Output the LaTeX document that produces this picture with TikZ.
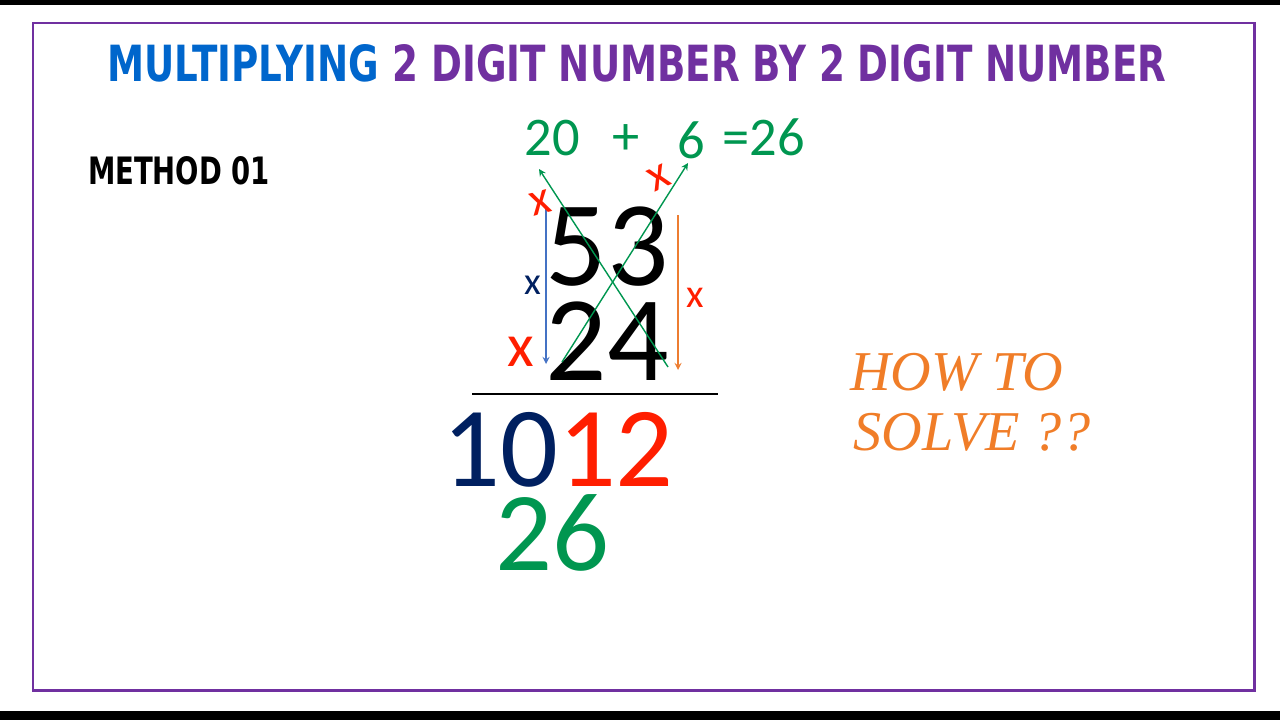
\documentclass[tikz,border=0pt]{standalone}
\usepackage{fontspec}
\usepackage{graphicx}
\setmainfont{Carlito}
\newfontfamily\heavyfont{DejaVu Sans}
\newfontfamily\slantfont{Liberation Serif}
\usetikzlibrary{arrows}

\definecolor{frameviolet}{RGB}{112,48,160}
\definecolor{titleblue}{RGB}{0,102,204}
\definecolor{sumgreen}{RGB}{0,150,80}
\definecolor{crossred}{RGB}{255,30,0}
\definecolor{tensnavy}{RGB}{0,32,96}
\definecolor{lineblue}{RGB}{68,114,196}
\definecolor{lineorange}{RGB}{237,125,49}
\definecolor{howorange}{RGB}{240,125,40}

\begin{document}
\begin{tikzpicture}[x=0.02cm, y=-0.02cm, >=stealth,
    txt/.style={inner sep=0pt, anchor=base},
    bigdigit/.style={txt, font=\fontsize{69}{69}\selectfont},
    topdigit/.style={txt, sumgreen, font=\fontsize{31}{31}\selectfont}]
        \useasboundingbox (0,0) rectangle (1280,720);

        % black bars and frame
        \fill[black] (0,0) rectangle (1280,5);
        \fill[black] (0,711) rectangle (1280,720);
        \draw[frameviolet, line width=1.7pt] (33,23) rectangle (1254,690);

        % title
        \node[inner sep=0pt] (title) at (637,63) {\resizebox{21.18cm}{0.74cm}{\heavyfont\bfseries
            \color{titleblue}MULTIPLYING \color{frameviolet}2 DIGIT NUMBER BY 2 DIGIT NUMBER}};
        \node[inner sep=0pt] (method) at (179,171) {\resizebox{3.64cm}{0.56cm}{\heavyfont\bfseries METHOD 01}};

        % sum of the cross products
        \node[topdigit] (top20) at (552,155) {20};
        \node[topdigit, anchor=center] (topplus) at (626,140) {+};
        \node[topdigit] (top6) at (691,158) {6};
        \node[topdigit] (topsum) at (764,155) {=26};

        % the two numbers
        \node[bigdigit] (num53) at (607,285) {53};
        \node[bigdigit] (num24) at (607,380) {24};

        % cross arrows
        \coordinate (crossAs) at (668,367);
        \coordinate (crossAe) at (539,169);
        \coordinate (crossBs) at (562,362);
        \coordinate (crossBe) at (688,163);
        \draw[->, sumgreen, line width=0.8pt] (crossAs) -- (crossAe);
        \draw[->, sumgreen, line width=0.8pt] (crossBs) -- (crossBe);

        % down arrows
        \coordinate (tensTop) at (546,207);
        \coordinate (tensBot) at (546,364);
        \coordinate (onesTop) at (678,215);
        \coordinate (onesBot) at (678,370);
        \draw[->, lineblue, line width=0.8pt] (tensTop) -- (tensBot);
        \draw[->, lineorange, line width=0.8pt] (onesTop) -- (onesBot);

        % times signs
        \node[inner sep=0pt, crossred, rotate=15, font=\fontsize{27}{27}\selectfont] (xa) at (540,203) {x};
        \node[inner sep=0pt, crossred, rotate=25, font=\fontsize{27}{27}\selectfont] (xb) at (659,178) {x};
        \node[inner sep=0pt, crossred, font=\fontsize{35}{35}\selectfont] (xbig) at (521,352) {x};
        \node[inner sep=0pt, tensnavy, font=\fontsize{22}{22}\selectfont] (xnavy) at (533,285) {x};
        \node[inner sep=0pt, crossred, font=\fontsize{23}{23}\selectfont] (xright) at (695,298) {x};

        % result line
        \coordinate (ruleL) at (472,394);
        \coordinate (ruleR) at (718,394);
        \draw[line width=0.8pt] (ruleL) -- (ruleR);

        % result
        \node[bigdigit, font=\fontsize{65}{65}\selectfont] (res1012) at (558,486)
            {\textcolor{tensnavy}{10}\textcolor{crossred}{12}};
        \node[bigdigit, sumgreen, font=\fontsize{64}{64}\selectfont] (res26) at (552,570) {26};

        % question
        \node[txt, anchor=base west, howorange, font=\slantfont\itshape\fontsize{32}{32}\selectfont] (how) at (850,390) {HOW TO};
        \node[txt, anchor=base west, howorange, font=\slantfont\itshape\fontsize{32}{32}\selectfont] (solve) at (853,450) {SOLVE ??};
\end{tikzpicture}
\end{document}
